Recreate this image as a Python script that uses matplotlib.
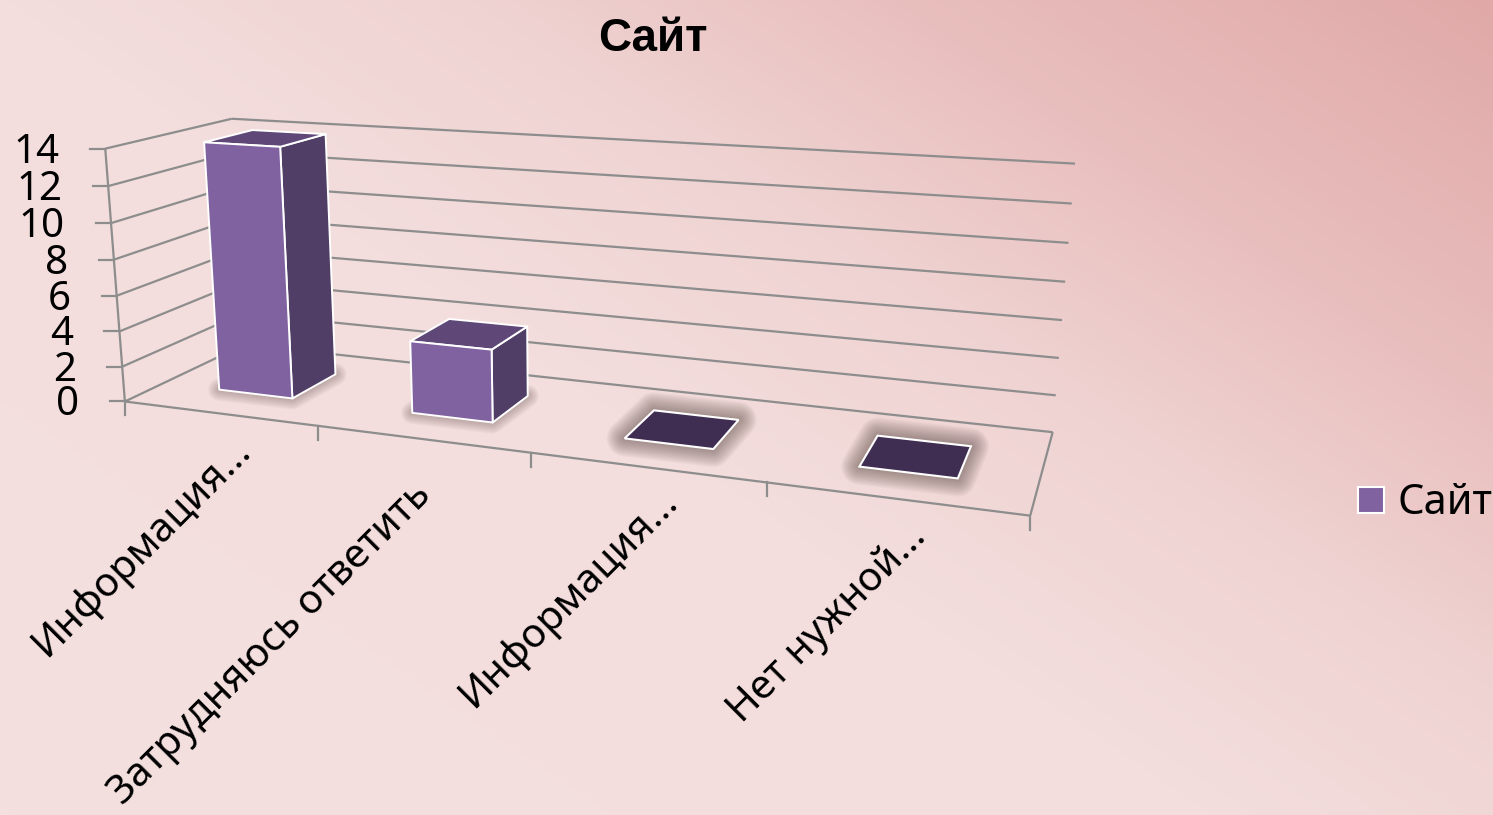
import numpy as np
import matplotlib
matplotlib.use('Agg')
import matplotlib.pyplot as plt
from matplotlib.colors import LinearSegmentedColormap
from matplotlib.patches import Polygon, Rectangle

plt.rcParams['font.family'] = ['Noto Sans', 'DejaVu Sans']

# chart values
categories = ['Информация...', 'Затрудняюсь ответить', 'Информация...', 'Нет нужной...']
values = [14, 4, 0, 0]
y_ticks = [0, 2, 4, 6, 8, 10, 12, 14]
series_name = 'Сайт'

W, H = 1493, 815
GRID = '#8d8d8d'
FRONT, SIDE, TOP, FLAT = '#8062a0', '#503e66', '#5f4878', '#3f2d52'

# the box of the 3d chart: (category, value, depth) -> where it lands in the picture
box_3d = [(0, 0, 0), (0, 14, 0), (0, 0, 1), (0, 14, 1), (4, 0, 1), (4, 14, 1), (4, 0, 0),
          (1, 0, 0), (2, 0, 0), (3, 0, 0)]
box_px = [(125.5, 401), (105, 148), (244, 345), (232, 119), (1053, 431), (1075, 164), (1030, 516),
          (318, 426), (531, 453), (767, 483)]

# the long label sits further down its own slant than the others
label_shift = [(11, 17), (-11, 36), (11, 14), (11, 18)]


def fit_projection(pts3, pts2):
    rows, rhs = [], []
    for (x, y, z), (u, v) in zip(pts3, pts2):
        rows.append([x, y, z, 1, 0, 0, 0, 0, -u * x, -u * y, -u * z])
        rows.append([0, 0, 0, 0, x, y, z, 1, -v * x, -v * y, -v * z])
        rhs += [u, v]
    sol = np.linalg.lstsq(np.array(rows, float), np.array(rhs, float), rcond=None)[0]
    return np.append(sol, 1).reshape(3, 4)


P = fit_projection(box_3d, box_px)


def proj(x, y, z):
    u, v, w = P @ np.array([x, y, z, 1.0])
    return u / w, v / w


def grid_line(ax, a, b, lw=1.6):
    pa, pb = proj(*a), proj(*b)
    ax.plot([pa[0], pb[0]], [pa[1], pb[1]], color=GRID, lw=lw, solid_capstyle='butt', zorder=2)


fig = plt.figure(figsize=(W / 100, H / 100), dpi=100)
ax = fig.add_axes([0, 0, 1, 1])
ax.set_xlim(0, W)
ax.set_ylim(H, 0)
ax.axis('off')

# slide background, diagonal gradient to the top right corner
yy, xx = np.mgrid[0:H, 0:W]
t = 0.56 * xx - 0.83 * yy
t = (t + 676) / (836 + 676)
cmap = LinearSegmentedColormap.from_list('bg', [(0, '#f4e0df'), (0.45, '#f3dedd'), (0.62, '#efd3d2'),
                                                (0.77, '#e9c0bf'), (1, '#e0a9a8')])
ax.imshow(t, cmap=cmap, vmin=0, vmax=1, extent=(0, W, H, 0), aspect='auto', zorder=0)

# gridlines on both walls
for v in y_ticks:
    grid_line(ax, (0, v, 0), (0, v, 1))
    grid_line(ax, (0, v, 1), (4, v, 1))
    u0, v0 = proj(0, v, 0)
    ax.plot([u0 - 15, u0], [v0, v0], color=GRID, lw=1.6, zorder=2)
    ax.text(u0 - 46, v0 + 4, str(v), ha='right', va='center', fontsize=29, color='black', zorder=6)
grid_line(ax, (0, 0, 0), (0, 14, 0))
grid_line(ax, (0, 0, 0), (4, 0, 0))
grid_line(ax, (4, 0, 0), (4, 0, 1))

# ticks and labels of the category axis
for i in range(len(categories) + 1):
    u0, v0 = proj(i, 0, 0)
    ax.plot([u0, u0], [v0, v0 + 14], color=GRID, lw=1.6, zorder=2)
for i, name in enumerate(categories):
    u0, v0 = proj(i + 0.5, 0, 0)
    dx, dy = label_shift[i]
    ax.text(u0 + dx, v0 + dy, name, rotation=45, rotation_mode='anchor', ha='right', va='top',
            fontsize=29, color='black', zorder=6)

# bars
bar_w = 0.39
z0, z1 = 0.3, 0.7
for i, val in enumerate(values):
    x0, x1 = i + 0.5 - bar_w / 2, i + 0.5 + bar_w / 2
    base = [proj(x0, 0, z0), proj(x1, 0, z0), proj(x1, 0, z1), proj(x0, 0, z1)]
    # soft shadow around the foot print
    spread = 26 if val == 0 else 16
    for lw in np.arange(spread, 1, -2):
        ax.add_patch(Polygon(base, closed=True, facecolor='#5a4a44', edgecolor='#5a4a44', alpha=0.05, lw=lw,
                             joinstyle='round', zorder=3))
    if val == 0:
        ax.add_patch(Polygon(base, closed=True, facecolor=FLAT, edgecolor='white', lw=1.5, zorder=4))
        continue
    front = [proj(x0, 0, z0), proj(x1, 0, z0), proj(x1, val, z0), proj(x0, val, z0)]
    side = [proj(x1, 0, z0), proj(x1, 0, z1), proj(x1, val, z1), proj(x1, val, z0)]
    top = [proj(x0, val, z0), proj(x1, val, z0), proj(x1, val, z1), proj(x0, val, z1)]
    for face, col in [(side, SIDE), (top, TOP), (front, FRONT)]:
        ax.add_patch(Polygon(face, closed=True, facecolor=col, edgecolor='white', lw=1.4, joinstyle='round', zorder=4))

# title and legend
ax.text(653, 39, series_name, ha='center', va='center', fontsize=33, fontweight='bold',
        family=['Liberation Sans', 'DejaVu Sans'], color='black', zorder=6)
ax.add_patch(Rectangle((1358, 487), 26, 26, facecolor=FRONT, edgecolor='white', lw=1.5, zorder=5))
ax.text(1397, 503, series_name, ha='left', va='center', fontsize=30, color='black', zorder=6)

fig.savefig('out.png', dpi=100)
